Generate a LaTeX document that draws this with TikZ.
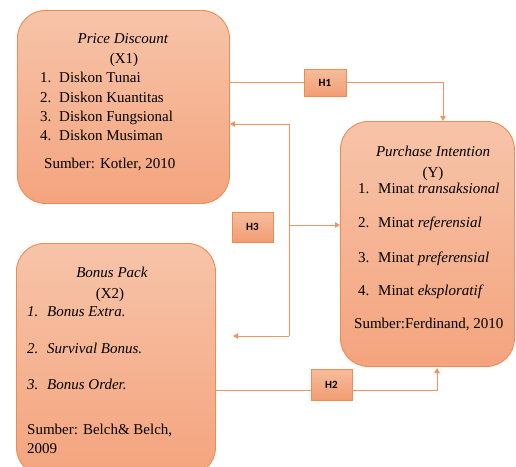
\documentclass[tikz,border=0pt]{standalone}
\usepackage{fontspec}
\setmainfont{Liberation Serif}
\newfontfamily\hfont{Carlito}
\usetikzlibrary{arrows.meta}

\definecolor{boxtop}{HTML}{F7C4A9}
\definecolor{boxbot}{HTML}{F4A47E}
\definecolor{boxline}{HTML}{EE8B50}
\definecolor{htop}{HTML}{F7BC9C}
\definecolor{hbot}{HTML}{F29D74}
\definecolor{connline}{HTML}{F0955F}

\tikzset{
	varbox/.style={draw=boxline, line width=0.9pt, rounded corners=28pt,
		top color=boxtop, bottom color=boxbot, anchor=north west, inner sep=0pt},
	hbox/.style={draw=boxline, line width=0.9pt, top color=htop, bottom color=hbot,
		inner sep=0pt, font=\hfont\bfseries\fontsize{11}{13}\selectfont},
	txt/.style={anchor=base west, inner sep=0pt, font=\fontsize{15}{18}\selectfont},
	ctxt/.style={anchor=base, inner sep=0pt, font=\fontsize{15}{18}\selectfont},
	conn/.style={draw=connline, line width=0.9pt},
	arr/.style={conn, -{Triangle[length=5pt,width=5.5pt]}}
}

\begin{document}
\begin{tikzpicture}[x=1pt, y=-1pt]
	\useasboundingbox (0,0) rectangle (516,466);

	% variable boxes
	\node[varbox, minimum width=212pt, minimum height=193pt] (x1) at (17,10) {};
	\node[varbox, minimum width=199pt, minimum height=232pt] (x2) at (16,243) {};
	\node[varbox, minimum width=174pt, minimum height=245pt] (y) at (340,121) {};

	% X1
	\node[ctxt] (x1name) at (123,43) {\textit{Price Discount}};
	\node[ctxt] (x1code) at (124,63) {(X1)};
	\foreach \i/\t/\yy in {1/Tunai/82, 2/Kuantitas/102, 3/Fungsional/121, 4/Musiman/140} {
		\node[txt] (x1n\i) at (40,\yy) {\i.};
		\node[txt] (x1t\i) at (59,\yy) {Diskon \t};
	}
	\node[txt] (x1src) at (44,168) {Sumber: Kotler, 2010};

	% X2
	\node[ctxt] (x2name) at (112,277) {\textit{Bonus Pack}};
	\node[ctxt] (x2code) at (110,298) {(X2)};
	\foreach \i/\t/\yy in {1/Bonus Extra./316, 2/Survival Bonus./353, 3/Bonus Order./389} {
		\node[txt] (x2n\i) at (27,\yy) {\textit{\i.}};
		\node[txt] (x2t\i) at (47,\yy) {\textit{\t}};
	}
	\node[txt] (x2src) at (27,434) {Sumber: Belch\& Belch,};
	\node[txt] (x2yr) at (27,453) {2009};

	% Y
	\node[ctxt] (yname) at (433,156) {\textit{Purchase Intention}};
	\node[ctxt] (ycode) at (433,177) {(Y)};
	\foreach \i/\t/\yy in {1/transaksional/193, 2/referensial/227, 3/preferensial/262, 4/eksploratif/295} {
		\node[txt] (yn\i) at (358,\yy) {\i.};
		\node[txt] (yt\i) at (378,\yy) {Minat \textit{\t}};
	}
	\node[txt] (ysrc) at (354,328) {Sumber:Ferdinand, 2010};

	% hypothesis boxes
	\node[hbox, minimum width=42pt, minimum height=27pt] (h1) at (325,82.5) {H1};
	\node[hbox, minimum width=41pt, minimum height=30pt] (h3) at (252.5,227) {H3};
	\node[hbox, minimum width=41pt, minimum height=31pt] (h2) at (331.5,384.5) {H2};

	% H1
	\coordinate (h1a) at (229,82);
	\coordinate (h1b) at (443,121);
	\draw[conn] (h1a) -- (h1a -| h1.west);
	\draw[arr] (h1.east |- h1a) -| (h1b);

	% H3
	\coordinate (h3top) at (289,124);
	\coordinate (h3mid) at (289,225);
	\coordinate (h3bot) at (289,336);
	\coordinate (h3end) at (233,336);
	\draw[conn] (h3top) -- (h3bot);
	\draw[arr] (h3top) -- (h3top -| x1.east);
	\draw[arr] (h3mid) -- (h3mid -| y.west);
	\draw[arr] (h3bot) -- (h3end);

	% H2
	\coordinate (h2a) at (215,390);
	\coordinate (h2b) at (437,368);
	\draw[conn] (h2a) -- (h2a -| h2.west);
	\draw[arr] (h2.east |- h2a) -| (h2b);
\end{tikzpicture}
\end{document}
